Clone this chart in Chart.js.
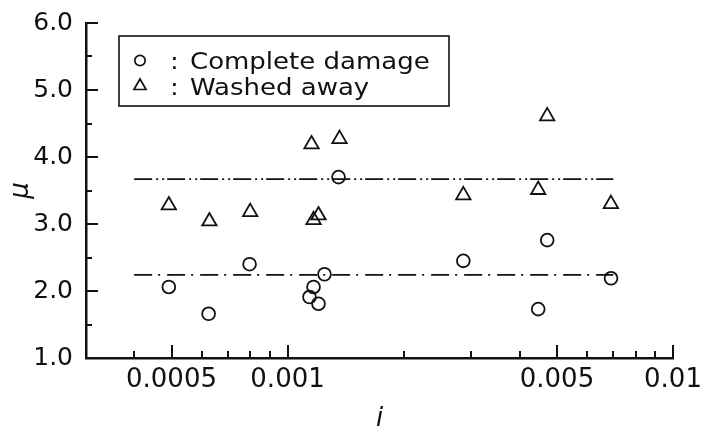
<!DOCTYPE html>
<html>
<head>
<meta charset="utf-8">
<script src="https://cdn.jsdelivr.net/npm/chart.js@4.4.1/dist/chart.umd.min.js"></script>
<style>
  html, body { margin: 0; padding: 0; background: #ffffff; }
  #wrap { width: 703px; height: 435px; }
</style>
</head>
<body>
<div id="wrap"><canvas id="chart" width="703" height="435"></canvas></div>
<script>
// Complete damage cases: bed slope i and ductility factor mu
const damageI  = [0.000492, 0.000624, 0.000797, 0.00114, 0.001168, 0.001203, 0.001247, 0.001356, 0.002858, 0.00447, 0.004717, 0.006905];
const damageMu = [2.06, 1.66, 2.40, 1.91, 2.06, 1.81, 2.25, 3.70, 2.45, 1.73, 2.76, 2.19];

// Washed-away cases
const washedI  = [0.000492, 0.000627, 0.0008, 0.001154, 0.001168, 0.001203, 0.001364, 0.002858, 0.00447, 0.004717, 0.0069];
const washedMu = [3.28, 3.04, 3.18, 4.19, 3.06, 3.13, 4.27, 3.43, 3.51, 4.61, 3.30];

const seriesLabels = ['Complete damage', 'Washed away'];

// Reference levels for each group and the i-range they span
const levelMu   = [2.24, 3.67];
const levelSpan = [0.0004, 0.007];

// Axis ticks
const xTickValues  = [0.0004, 0.0005, 0.0006, 0.0007, 0.0008, 0.0009, 0.001, 0.002, 0.003, 0.004, 0.005, 0.006, 0.007, 0.008, 0.009, 0.01];
const xMajorValues = [0.0005, 0.001, 0.005, 0.01];
const xTickLabels  = ['0.0005', '0.001', '0.005', '0.01'];
const yTickValues  = [1, 1.5, 2, 2.5, 3, 3.5, 4, 4.5, 5, 5.5, 6];
const yMajorValues = [1, 2, 3, 4, 5, 6];
const yTickLabels  = ['1.0', '2.0', '3.0', '4.0', '5.0', '6.0'];

const INK = '#111111';
const FONT = "'DejaVu Sans', Verdana, sans-serif";

function majorIndex(list, v) {
  return list.findIndex(m => Math.abs(m - v) <= m * 1e-6);
}

function toPoints(xs, ys) {
  return xs.map((x, k) => ({ x: x, y: ys[k] }));
}

// Tick marks drawn on the inner side of both axes
const innerTicks = {
  id: 'innerTicks',
  afterDraw(chart) {
    const { ctx, chartArea, scales } = chart;
    ctx.save();
    ctx.strokeStyle = INK;
    ctx.lineWidth = 2;
    ctx.lineCap = 'butt';
    ctx.beginPath();
    xTickValues.forEach(v => {
      const px = Math.round(scales.x.getPixelForValue(v));
      const len = majorIndex(xMajorValues, v) >= 0 ? 13 : 7;
      ctx.moveTo(px, chartArea.bottom);
      ctx.lineTo(px, chartArea.bottom - len);
    });
    yTickValues.forEach(v => {
      const py = Math.round(scales.y.getPixelForValue(v));
      const len = majorIndex(yMajorValues, v) >= 0 ? 12 : 6;
      ctx.moveTo(chartArea.left, py);
      ctx.lineTo(chartArea.left + len, py);
    });
    ctx.stroke();
    ctx.restore();
  }
};

// Boxed key with marker, colon and series name
const boxedKey = {
  id: 'boxedKey',
  afterDraw(chart) {
    const ctx = chart.ctx;
    const box = { x: 119, y: 36, w: 330, h: 70 };
    ctx.save();
    ctx.strokeStyle = INK;
    ctx.lineWidth = 1.6;
    ctx.strokeRect(box.x, box.y, box.w, box.h);
    ctx.fillStyle = INK;
    ctx.font = '23px ' + FONT;
    ctx.textBaseline = 'alphabetic';
    const rows = [68.5, 94.5];
    const marks = [60.5, 86];
    seriesLabels.forEach((label, k) => {
      const cy = marks[k];
      ctx.lineWidth = 1.7;
      ctx.beginPath();
      if (k === 0) {
        ctx.arc(140, cy, 5.2, 0, Math.PI * 2);
      } else {
        const r = 7;
        ctx.moveTo(140, cy - r);
        ctx.lineTo(140 + r * 0.866, cy + r * 0.5);
        ctx.lineTo(140 - r * 0.866, cy + r * 0.5);
        ctx.closePath();
      }
      ctx.stroke();
      ctx.save();
      ctx.translate(170, rows[k]);
      ctx.scale(1.13, 1);
      ctx.fillText(':', 0, 0);
      ctx.fillText(label, 17.7, 0);
      ctx.restore();
    });
    ctx.restore();
  }
};

const levelDash = [[18, 6, 2, 7], [18, 4, 2, 4, 2, 3]];

const datasets = [
  {
    label: seriesLabels[0],
    data: toPoints(damageI, damageMu),
    pointStyle: 'circle',
    pointRadius: 6.4,
    pointHoverRadius: 6.4,
    pointBorderWidth: 1.8,
    borderColor: INK,
    backgroundColor: 'rgba(0,0,0,0)',
    showLine: false
  },
  {
    label: seriesLabels[1],
    data: toPoints(washedI, washedMu),
    pointStyle: 'triangle',
    pointRadius: 8.3,
    pointHoverRadius: 8.3,
    pointBorderWidth: 1.8,
    borderColor: INK,
    backgroundColor: 'rgba(0,0,0,0)',
    showLine: false
  }
];
levelMu.forEach((mu, k) => {
  datasets.push({
    type: 'line',
    label: 'level' + k,
    data: levelSpan.map(x => ({ x: x, y: mu })),
    borderColor: INK,
    borderWidth: 1.6,
    borderDash: levelDash[k],
    pointRadius: 0,
    fill: false,
    tension: 0
  });
});

new Chart(document.getElementById('chart'), {
  type: 'scatter',
  data: { datasets: datasets },
  options: {
    responsive: false,
    animation: false,
    devicePixelRatio: 1,
    layout: { padding: { top: 23, right: 30, left: 0, bottom: 0 } },
    plugins: {
      legend: { display: false },
      tooltip: { enabled: false }
    },
    scales: {
      x: {
        type: 'logarithmic',
        position: 'bottom',
        min: 0.0003,
        max: 0.01,
        afterBuildTicks(scale) {
          scale.ticks = xTickValues.map(v => ({ value: v }));
        },
        afterFit(scale) {
          scale.height = 77;
          scale.paddingLeft = 0;
          scale.paddingRight = 0;
        },
        grid: { display: true, drawOnChartArea: false, drawTicks: false },
        border: { display: true, color: INK, width: 2.5 },
        ticks: {
          autoSkip: false,
          maxRotation: 0,
          minRotation: 0,
          padding: 7,
          color: INK,
          font: { family: FONT, size: 26 },
          callback(value) {
            const k = majorIndex(xMajorValues, value);
            return k >= 0 ? xTickLabels[k] : '';
          }
        },
        title: {
          display: true,
          text: 'i',
          color: INK,
          padding: { top: 0, bottom: 0 },
          font: { family: FONT, size: 26, style: 'italic' }
        }
      },
      y: {
        type: 'linear',
        position: 'left',
        min: 1,
        max: 6,
        afterBuildTicks(scale) {
          scale.ticks = yTickValues.map(v => ({ value: v }));
        },
        afterFit(scale) {
          scale.width = 86;
          scale.paddingTop = 0;
          scale.paddingBottom = 0;
        },
        grid: { display: true, drawOnChartArea: false, drawTicks: false },
        border: { display: true, color: INK, width: 2.5 },
        ticks: {
          autoSkip: false,
          padding: 13,
          color: INK,
          font: { family: FONT, size: 25 },
          callback(value) {
            const k = majorIndex(yMajorValues, value);
            return k >= 0 ? yTickLabels[k] : '';
          }
        },
        title: {
          display: true,
          text: 'μ',
          color: INK,
          padding: { top: 6, bottom: 0 },
          font: { family: FONT, size: 26, style: 'italic' }
        }
      }
    }
  },
  plugins: [innerTicks, boxedKey]
});
</script>
</body>
</html>
